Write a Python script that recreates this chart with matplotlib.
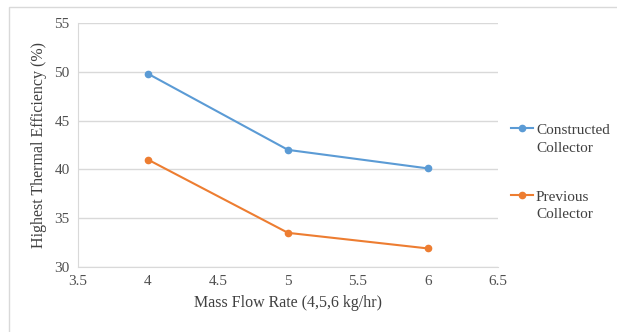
import matplotlib
matplotlib.use("Agg")
import matplotlib.pyplot as plt
from matplotlib.patches import Rectangle
from matplotlib.legend_handler import HandlerLine2D

# donnees
debit = [4, 5, 6]
constructed = [49.8, 42.0, 40.1]
previous = [41.0, 33.5, 31.9]
noms = ["Constructed\nCollector", "Previous\nCollector"]


class HandlerHaut(HandlerLine2D):
    """aligne le trait de la legende sur la premiere ligne du texte"""
    def create_artists(self, legend, orig_handle, xdescent, ydescent,
                       width, height, fontsize, trans):
        artistes = super().create_artists(legend, orig_handle, xdescent, ydescent,
                                          width, height, fontsize, trans)
        for a in artistes:
            a.set_ydata([y + 0.7 * fontsize for y in a.get_ydata()])
        return artistes


plt.rcParams['font.family'] = ['Liberation Serif', 'DejaVu Serif']

fig = plt.figure(figsize=(6.17, 3.32), dpi=100)
# cadre gris autour du graphique
fig.patches.append(Rectangle((9/617, -0.05), 1.0, 1 - 7/332 + 0.05, transform=fig.transFigure,
                             fill=False, edgecolor='#D9D9D9', linewidth=1))
ax = fig.add_axes([78/617, 65/332, 420/617, 244/332])

l1, = ax.plot(debit, constructed, color='#5B9BD5', marker='o', markersize=4.5, linewidth=1.5, label=noms[0])
l2, = ax.plot(debit, previous, color='#ED7D31', marker='o', markersize=4.5, linewidth=1.5, label=noms[1])

ax.set_xlim(3.5, 6.5)
ax.set_ylim(30, 55)
ax.set_xticks([3.5, 4, 4.5, 5, 5.5, 6, 6.5])
ax.set_xticklabels(['3.5', '4', '4.5', '5', '5.5', '6', '6.5'])
ax.set_yticks([30, 35, 40, 45, 50, 55])
ax.grid(axis='y', color='#D9D9D9', linewidth=1)
ax.set_axisbelow(True)
for s in ['top', 'right']:
    ax.spines[s].set_visible(False)
ax.spines['left'].set_color('#D9D9D9')
ax.spines['bottom'].set_color('#D9D9D9')
ax.tick_params(length=0, colors='#505050', labelsize=11, pad=6)

ax.set_xlabel('Mass Flow Rate (4,5,6 kg/hr)', color='#404040', fontsize=11.5, labelpad=5)
ax.set_ylabel('Highest Thermal Efficiency (%)', color='#404040', fontsize=11.5, labelpad=5)

leg = fig.legend(handles=[l1, l2], loc='center left', bbox_to_anchor=(497/617, 0.48), frameon=False,
                 handlelength=1.45, handletextpad=0.2, labelspacing=2.35, fontsize=11,
                 labelcolor='#404040', handler_map={matplotlib.lines.Line2D: HandlerHaut()})
for t in leg.get_texts():
    t.set_linespacing(1.45)

plt.savefig('out.png', dpi=100)
